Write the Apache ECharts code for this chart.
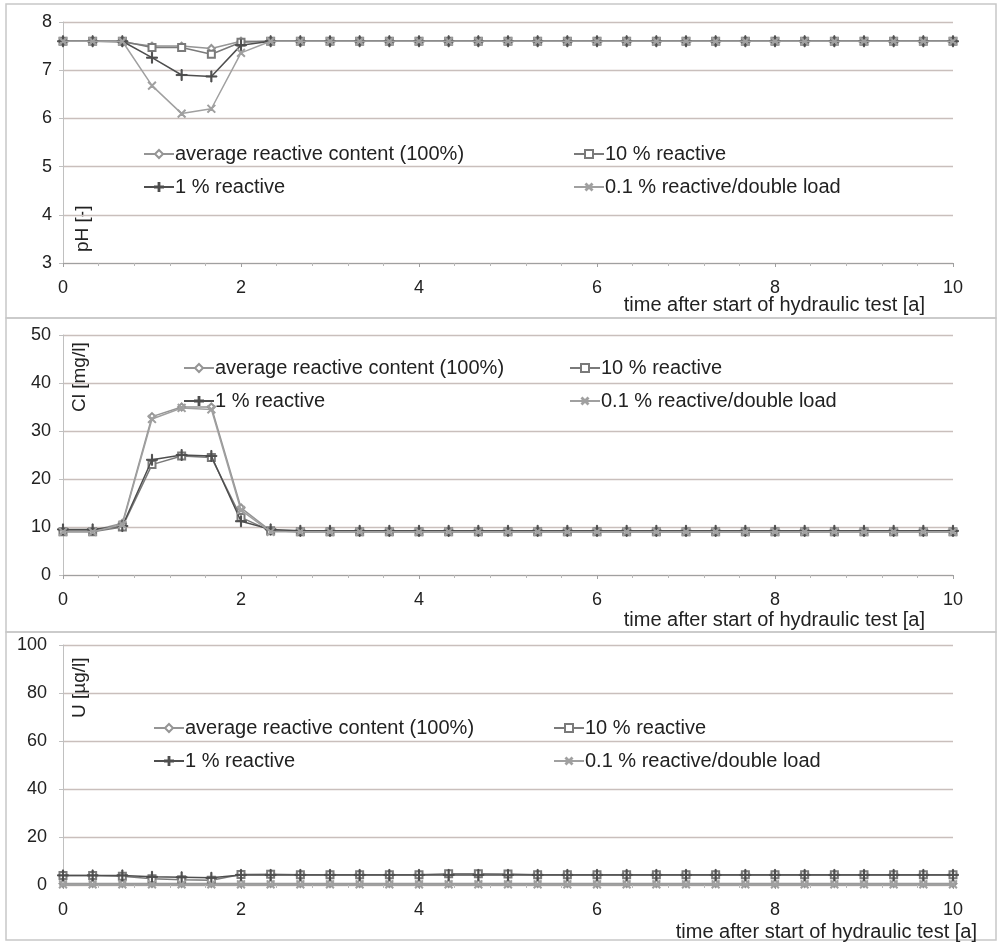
<!DOCTYPE html>
<html>
<head>
<meta charset="utf-8">
<script src="https://cdn.jsdelivr.net/npm/echarts@6/dist/echarts.min.js"></script>
<style>
html,body{margin:0;padding:0;background:#fff;}
#chart{width:1000px;height:943px;}
</style>
</head>
<body>
<div id="chart"></div>
<script>
// time after start of hydraulic test [a]
const times = [0,0.333,0.667,1,1.333,1.667,2,2.333,2.667,3,3.333,3.667,4,4.333,4.667,5,5.333,5.667,6,6.333,6.667,7,7.333,7.667,8,8.333,8.667,9,9.333,9.667,10];

const seriesNames = ['average reactive content (100%)','10 % reactive','1 % reactive','0.1 % reactive/double load'];
const xTicks = [0,2,4,6,8,10];

// pH [-]
const phAverage = [7.6,7.6,7.58,7.5,7.5,7.45,7.6,7.6,7.6,7.6,7.6,7.6,7.6,7.6,7.6,7.6,7.6,7.6,7.6,7.6,7.6,7.6,7.6,7.6,7.6,7.6,7.6,7.6,7.6,7.6,7.6];
const ph10 =      [7.6,7.6,7.6,7.47,7.47,7.33,7.58,7.6,7.6,7.6,7.6,7.6,7.6,7.6,7.6,7.6,7.6,7.6,7.6,7.6,7.6,7.6,7.6,7.6,7.6,7.6,7.6,7.6,7.6,7.6,7.6];
const ph1 =       [7.6,7.6,7.6,7.26,6.9,6.87,7.52,7.6,7.6,7.6,7.6,7.6,7.6,7.6,7.6,7.6,7.6,7.6,7.6,7.6,7.6,7.6,7.6,7.6,7.6,7.6,7.6,7.6,7.6,7.6,7.6];
const ph01 =      [7.6,7.6,7.6,6.68,6.1,6.2,7.36,7.6,7.6,7.6,7.6,7.6,7.6,7.6,7.6,7.6,7.6,7.6,7.6,7.6,7.6,7.6,7.6,7.6,7.6,7.6,7.6,7.6,7.6,7.6,7.6];

// Cl [mg/l]
const clAverage = [9.2,9.2,10.8,33,35,35,14,9.2,9,9,9,9,9,9,9,9,9,9,9,9,9,9,9,9,9,9,9,9,9,9,9];
const cl10 =      [9,9,10,23,24.8,24.5,12,9.2,9,9,9,9,9,9,9,9,9,9,9,9,9,9,9,9,9,9,9,9,9,9,9];
const cl1 =       [9.5,9.5,10.2,24,25,24.8,11.2,9.5,9.2,9.2,9.2,9.2,9.2,9.2,9.2,9.2,9.2,9.2,9.2,9.2,9.2,9.2,9.2,9.2,9.2,9.2,9.2,9.2,9.2,9.2,9.2];
const cl01 =      [9,9,10.5,32.5,34.8,34.5,13.5,9,9,9,9,9,9,9,9,9,9,9,9,9,9,9,9,9,9,9,9,9,9,9,9];

// U [µg/l]
const uAverage = [0.6,0.6,0.6,0.6,0.6,0.6,0.6,0.6,0.6,0.6,0.6,0.6,0.6,0.6,0.6,0.6,0.6,0.6,0.6,0.6,0.6,0.6,0.6,0.6,0.6,0.6,0.6,0.6,0.6,0.6,0.6];
const u10 =      [4,4,3.6,2.6,2.2,2,4.4,4.5,4.3,4.3,4.3,4.3,4.3,4.7,4.7,4.6,4.3,4.3,4.3,4.3,4.3,4.3,4.3,4.3,4.3,4.3,4.3,4.3,4.3,4.3,4.3];
const u1 =       [4,4,4,3.4,3.2,3,4.2,4.2,4.2,4.2,4.2,4.2,4.2,4.2,4.2,4.2,4.2,4.2,4.2,4.2,4.2,4.2,4.2,4.2,4.2,4.2,4.2,4.2,4.2,4.2,4.2];
const u01 =      [0.3,0.3,0.3,0.3,0.3,0.3,0.3,0.3,0.3,0.3,0.3,0.3,0.3,0.3,0.3,0.3,0.3,0.3,0.3,0.3,0.3,0.3,0.3,0.3,0.3,0.3,0.3,0.3,0.3,0.3,0.3];

const panels = [
  {values:[phAverage,ph10,ph1,ph01], min:3, max:8, interval:1, yName:'pH [-]'},
  {values:[clAverage,cl10,cl1,cl01], min:0, max:50, interval:10, yName:'Cl [mg/l]'},
  {values:[uAverage,u10,u1,u01], min:0, max:100, interval:20, yName:'U [µg/l]'}
];

const FONT = '"Liberation Sans", Arial, sans-serif';
const PLUS = 'path://M-0.6,-6h1.2v12h-1.2z M-6,-0.6h12v1.2h-12z';
const styles = [
  {color:'#959595', symbol:'emptyDiamond', size:7, rotate:0},
  {color:'#7a7a7a', symbol:'emptyRect', size:7, rotate:0},
  {color:'#4e4e4e', symbol:PLUS, size:11, rotate:0},
  {color:'#a0a0a0', symbol:PLUS, size:10, rotate:45}
];

const gridPos = [
  {top:22, height:241},
  {top:335, height:240},
  {top:645, height:240}
];
const labelMargins = [11, 12, 16];

const grids = [], xAxes = [], yAxes = [], series = [];
panels.forEach((p, pi) => {
  grids.push({left:63, right:47, top:gridPos[pi].top, height:gridPos[pi].height});
  xAxes.push({
    type:'value', gridIndex:pi, min:0, max:10, interval:2,
    axisLine:{show:true, onZero:false, lineStyle:{color:'#a0a0a0', width:1}},
    axisTick:{show:true, length:4, lineStyle:{color:'#a0a0a0'}},
    minorTick:{show:true, splitNumber:5, length:3, lineStyle:{color:'#b8b8b8'}},
    splitLine:{show:false},
    axisLabel:{fontFamily:FONT, fontSize:18, color:'#222', margin:16,
      formatter:v => xTicks.indexOf(v) >= 0 ? String(v) : ''}
  });
  yAxes.push({
    type:'value', gridIndex:pi, min:p.min, max:p.max, interval:p.interval,
    axisLine:{show:true, lineStyle:{color:'#c0c0c0', width:1}},
    axisTick:{show:true, length:4, lineStyle:{color:'#c0c0c0'}},
    splitLine:{show:true, lineStyle:{color:'#c9bfbc', width:1.3}},
    axisLabel:{fontFamily:FONT, fontSize:18, color:'#222', margin:labelMargins[pi]}
  });
  p.values.forEach((vals, si) => {
    const st = styles[si];
    series.push({
      type:'line', name:seriesNames[si], xAxisIndex:pi, yAxisIndex:pi,
      data: times.map((t, i) => [t, vals[i]]),
      symbol:st.symbol, symbolSize:st.size, symbolRotate:st.rotate,
      showAllSymbol:true,
      lineStyle:{color:st.color, width:1.5},
      itemStyle:{color:st.color, borderColor:st.color, borderWidth:1},
      emphasis:{disabled:true},
      animation:false, z: 2 + si
    });
  });
});

const legendPos = [
  {c1:{left:138, top:139}, c2:{left:568, top:139}},
  {c1:{left:178, top:353}, c2:{left:564, top:353}},
  {c1:{left:148, top:713}, c2:{left:548, top:713}}
];
const legends = [];
legendPos.forEach(lp => {
  const common = {orient:'vertical', itemWidth:30, itemHeight:10, itemGap:13, selectedMode:false,
    textStyle:{fontFamily:FONT, fontSize:20, color:'#222', padding:[0,0,0,-4]}};
  legends.push(Object.assign({}, common, lp.c1, {data:[seriesNames[0], seriesNames[2]]}));
  legends.push(Object.assign({}, common, lp.c2, {data:[seriesNames[1], seriesNames[3]]}));
});

const graphics = [
  {type:'rect', shape:{x:6, y:4, width:990, height:314}, style:{fill:'none', stroke:'#c8c8c8', lineWidth:1.5}, silent:true},
  {type:'rect', shape:{x:6, y:318, width:990, height:314}, style:{fill:'none', stroke:'#c8c8c8', lineWidth:1.5}, silent:true},
  {type:'rect', shape:{x:6, y:632, width:990, height:308}, style:{fill:'none', stroke:'#c8c8c8', lineWidth:1.5}, silent:true},
  {type:'text', x:925, y:305, style:{text:'time after start of hydraulic test [a]', font:'20px "Liberation Sans", Arial, sans-serif', fill:'#222', align:'right', verticalAlign:'middle'}},
  {type:'text', x:925, y:620, style:{text:'time after start of hydraulic test [a]', font:'20px "Liberation Sans", Arial, sans-serif', fill:'#222', align:'right', verticalAlign:'middle'}},
  {type:'text', x:977, y:932, style:{text:'time after start of hydraulic test [a]', font:'20px "Liberation Sans", Arial, sans-serif', fill:'#222', align:'right', verticalAlign:'middle'}},
  {type:'text', x:83, y:252, rotation:Math.PI/2, style:{text:panels[0].yName, font:'19px "Liberation Sans", Arial, sans-serif', fill:'#222', align:'left', verticalAlign:'middle'}},
  {type:'text', x:80, y:412, rotation:Math.PI/2, style:{text:panels[1].yName, font:'19px "Liberation Sans", Arial, sans-serif', fill:'#222', align:'left', verticalAlign:'middle'}},
  {type:'text', x:80, y:718, rotation:Math.PI/2, style:{text:panels[2].yName, font:'19px "Liberation Sans", Arial, sans-serif', fill:'#222', align:'left', verticalAlign:'middle'}}
];

const chart = echarts.init(document.getElementById('chart'), null, {renderer:'canvas'});
chart.setOption({
  backgroundColor:'#ffffff',
  animation:false,
  grid:grids, xAxis:xAxes, yAxis:yAxes, series:series,
  legend:legends,
  graphic:graphics
});
</script>
</body>
</html>
